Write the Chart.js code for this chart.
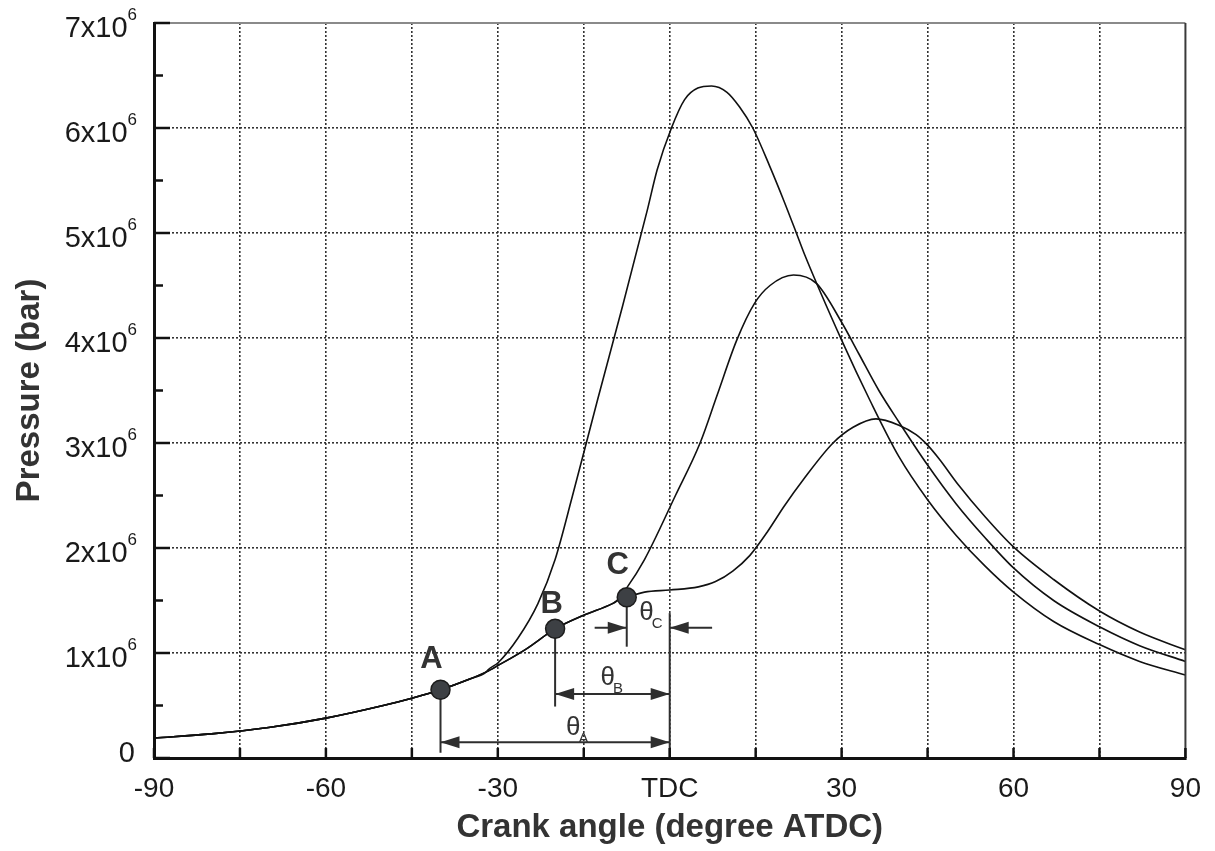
<!DOCTYPE html>
<html><head><meta charset="utf-8">
<script src="https://cdn.jsdelivr.net/npm/chart.js@4.4.1/dist/chart.umd.min.js"></script>
<style>html,body{margin:0;padding:0;background:#fff;}canvas{display:block;}</style>
</head><body>
<canvas id="c" width="1215" height="851"></canvas>
<script>
// ---- data (pressure in units of 1e6) ----
const commonAngle    = [-90, -80, -70, -60, -50, -45, -40, -35, -32, -30, -25, -20, -15, -10, -9.4, -7.5];
const commonPressure = [0.19, 0.23, 0.29, 0.38, 0.50, 0.57, 0.65, 0.75, 0.82, 0.88, 1.04, 1.23, 1.36, 1.47, 1.49, 1.53];

const curveAAngle    = [-31.7, -29.9, -26.5, -23, -20, -17, -12.6, -8.2, -3.9, -2.2, 0.3, 2.6, 4.9, 7.3, 10, 12.2, 14.5, 17.5, 19.9, 22.1, 23.5, 30, 35, 40, 45, 50, 55, 60, 67, 75, 82, 90];
const curveAPressure = [0.84, 0.91, 1.14, 1.47, 1.89, 2.49, 3.41, 4.31, 5.22, 5.6, 6.0, 6.27, 6.38, 6.40, 6.34, 6.2, 6.0, 5.63, 5.31, 5.0, 4.8, 3.98, 3.40, 2.87, 2.46, 2.12, 1.83, 1.58, 1.30, 1.08, 0.92, 0.79];

const curveBAngle    = [-9.4, -7.5, -4.4, 1, 5.3, 8.3, 11.7, 14.8, 17.5, 21.6, 25.6, 30, 33, 36.5, 40, 45, 50, 55, 60, 67, 75, 82, 90];
const curveBPressure = [1.49, 1.62, 1.89, 2.5, 3.0, 3.46, 3.98, 4.33, 4.5, 4.6, 4.52, 4.15, 3.85, 3.5, 3.2, 2.79, 2.42, 2.1, 1.81, 1.5, 1.25, 1.07, 0.92];

const curveCAngle    = [-4.4, 0, 5, 8, 11, 14, 17, 20, 23.3, 28.5, 32, 36, 40, 43, 45, 47, 50.4, 55, 60, 67, 75, 82, 90];
const curveCPressure = [1.58, 1.60, 1.63, 1.68, 1.78, 1.93, 2.15, 2.40, 2.65, 3.0, 3.15, 3.23, 3.17, 3.08, 2.98, 2.85, 2.60, 2.3, 2.01, 1.7, 1.40, 1.2, 1.03];

const xTickLabels = {'-90':'-90','-60':'-60','-30':'-30','0':'TDC','30':'30','60':'60','90':'90'};
const yTickValues = [0, 1, 2, 3, 4, 5, 6, 7];
const yTickBase   = ['0', '1x10', '2x10', '3x10', '4x10', '5x10', '6x10', '7x10'];
const yTickExp    = ['', '6', '6', '6', '6', '6', '6', '6'];

// ignition points (angle, pressure 1e6)
const pointNames = ['A', 'B', 'C'];
const pointAngle = [-40, -20, -7.5];
const pointPressure = [0.65, 1.23, 1.53];

const SCALE = 1e6;
function build(angles, press, splitAngle) {
  const pts = [];
  commonAngle.forEach((a, i) => { if (a < splitAngle) pts.push({x: a, y: commonPressure[i] * SCALE}); });
  angles.forEach((a, i) => pts.push({x: a, y: press[i] * SCALE}));
  return pts;
}

const FONT = "'Liberation Sans', Arial, Helvetica, sans-serif";
Chart.defaults.font.family = FONT;

function arrowHead(ctx, tx, ty, dir) {
  const L = 19, W = 6;
  ctx.beginPath();
  ctx.moveTo(tx, ty);
  ctx.lineTo(tx - dir * L, ty - W);
  ctx.lineTo(tx - dir * L, ty + W);
  ctx.closePath();
  ctx.fill();
}

const annotPlugin = {
  id: 'annot',
  afterDatasetsDraw(chart) {
    const {ctx, scales: {x, y}} = chart;
    const X = v => x.getPixelForValue(v), Y = v => y.getPixelForValue(v * SCALE);
    ctx.save();
    ctx.strokeStyle = '#2e2e2e'; ctx.fillStyle = '#2e2e2e'; ctx.lineWidth = 2;
    const line = (x1, y1, x2, y2) => { ctx.beginPath(); ctx.moveTo(x1, y1); ctx.lineTo(x2, y2); ctx.stroke(); };
    // drop lines
    line(X(-40), Y(0.65), X(-40), Y(0.05));
    line(X(-20), Y(1.23), X(-20), Y(0.49));
    line(X(-7.5), Y(1.53), X(-7.5), Y(1.06));
    line(X(0), Y(1.38), X(0), Y(0));
    // theta A
    line(X(-40), Y(0.15), X(0), Y(0.15));
    arrowHead(ctx, X(-40), Y(0.15), -1); arrowHead(ctx, X(0), Y(0.15), 1);
    // theta B
    line(X(-20), Y(0.61), X(0), Y(0.61));
    arrowHead(ctx, X(-20), Y(0.61), -1); arrowHead(ctx, X(0), Y(0.61), 1);
    // theta C (inward arrows)
    line(X(-13.1), Y(1.24), X(-7.5), Y(1.24)); arrowHead(ctx, X(-7.5), Y(1.24), 1);
    line(X(7.4), Y(1.24), X(0), Y(1.24)); arrowHead(ctx, X(0), Y(1.24), -1);
    // dots
    pointAngle.forEach((a, i) => {
      ctx.beginPath(); ctx.arc(X(a), Y(pointPressure[i]), 9.5, 0, Math.PI * 2);
      ctx.fillStyle = '#3d4044'; ctx.fill();
      ctx.lineWidth = 1.5; ctx.strokeStyle = '#1c1c1c'; ctx.stroke();
    });
    // letters
    ctx.fillStyle = '#333'; ctx.font = 'bold 31px ' + FONT; ctx.textAlign = 'center'; ctx.textBaseline = 'alphabetic';
    const letterPos = [[-41.6, 0.857], [-20.6, 1.38], [-9.1, 1.75]];
    pointNames.forEach((n, i) => ctx.fillText(n, X(letterPos[i][0]), Y(letterPos[i][1])));
    // theta labels
    const thetaPos = [[-18.1, 0.22, 'A'], [-12.06, 0.695, 'B'], [-5.3, 1.314, 'C']];
    ctx.textAlign = 'left';
    thetaPos.forEach(([a, p, s]) => {
      ctx.font = '26px ' + FONT;
      const px = X(a), py = Y(p);
      ctx.fillText('\u03B8', px, py);
      const w = ctx.measureText('\u03B8').width;
      ctx.font = '15px ' + FONT;
      ctx.fillText(s, px + w - 2, py + 8);
    });
    ctx.restore();
  },
  afterDraw(chart) {
    const {ctx, chartArea: ca, scales: {x, y}} = chart;
    ctx.save();
    // top and right frame
    ctx.strokeStyle = '#8a8a8a'; ctx.lineWidth = 2;
    ctx.beginPath(); ctx.moveTo(ca.left, ca.top); ctx.lineTo(ca.right, ca.top); ctx.stroke();
    ctx.strokeStyle = '#3a3a3a';
    ctx.beginPath(); ctx.moveTo(ca.right, ca.top); ctx.lineTo(ca.right, ca.bottom); ctx.stroke();
    // inward ticks
    ctx.strokeStyle = '#111'; ctx.lineWidth = 2.5;
    x.ticks.forEach(t => {
      const px = x.getPixelForValue(t.value);
      ctx.beginPath(); ctx.moveTo(px, ca.bottom); ctx.lineTo(px, ca.bottom - 10); ctx.stroke();
    });
    y.ticks.forEach(t => {
      const py = y.getPixelForValue(t.value);
      const major = Math.abs(t.value / SCALE - Math.round(t.value / SCALE)) < 1e-6;
      ctx.beginPath(); ctx.moveTo(ca.left, py); ctx.lineTo(ca.left + (major ? 16 : 9), py); ctx.stroke();
    });
    // y tick labels with superscript
    ctx.fillStyle = '#1a1a1a'; ctx.textBaseline = 'alphabetic';
    yTickValues.forEach((v, i) => {
      const py = y.getPixelForValue(v * SCALE);
      if (yTickExp[i]) {
        ctx.font = '17px ' + FONT; ctx.textAlign = 'right';
        const ew = ctx.measureText(yTickExp[i]).width;
        ctx.fillText(yTickExp[i], 137, py - 3);
        ctx.font = '29px ' + FONT;
        ctx.fillText(yTickBase[i], 137 - ew, py + 14);
      } else {
        ctx.font = '29px ' + FONT; ctx.textAlign = 'right';
        ctx.fillText(yTickBase[i], 135, py + 4);
      }
    });
    ctx.restore();
  }
};

const lineStyle = {borderColor: '#111', borderWidth: 1.6, pointRadius: 0, fill: false, cubicInterpolationMode: 'monotone'};
const gridDash = [2, 2];

new Chart(document.getElementById('c'), {
  type: 'line',
  data: {
    datasets: [
      Object.assign({label: 'A', data: build(curveAAngle, curveAPressure, -31.7)}, lineStyle),
      Object.assign({label: 'B', data: build(curveBAngle, curveBPressure, -9.4)}, lineStyle),
      Object.assign({label: 'C', data: build(curveCAngle, curveCPressure, -4.4)}, lineStyle)
    ]
  },
  options: {
    responsive: false, animation: false, devicePixelRatio: 1,
    layout: {padding: {left: 10, right: 24, top: 23, bottom: 3}},
    plugins: {legend: {display: false}, tooltip: {enabled: false}},
    scales: {
      x: {
        type: 'linear', min: -90, max: 90,
        afterFit(s) { s.height = 851 - 3 - 758; },
        ticks: {stepSize: 15, autoSkip: false, maxRotation: 0, padding: 14, color: '#1a1a1a',
          font: {size: 28}, callback: v => xTickLabels[String(v)] || ''},
        grid: {drawTicks: false, lineWidth: 1.6,
          color: c => (c.tick && (c.tick.value === -90 || c.tick.value === 90)) ? 'rgba(0,0,0,0)' : '#333'},
        border: {color: '#111', width: 3, dash: gridDash},
        title: {display: true, text: 'Crank angle (degree ATDC)', color: '#333', font: {size: 33, weight: 'bold'}, padding: 0}
      },
      y: {
        type: 'linear', min: 0, max: 7 * SCALE,
        afterFit(s) { s.width = 154 - 10; },
        ticks: {stepSize: 0.5 * SCALE, display: false},
        grid: {drawTicks: false, lineWidth: 1.6,
          color: c => {
            if (!c.tick) return 'rgba(0,0,0,0)';
            const m = c.tick.value / SCALE;
            return (Math.abs(m - Math.round(m)) < 1e-6 && m > 0 && m < 7) ? '#333' : 'rgba(0,0,0,0)';
          }},
        border: {color: '#111', width: 3, dash: gridDash},
        title: {display: true, text: 'Pressure (bar)', color: '#333', font: {size: 33, weight: 'bold'}, padding: 0}
      }
    }
  },
  plugins: [annotPlugin]
});
</script>
</body></html>
